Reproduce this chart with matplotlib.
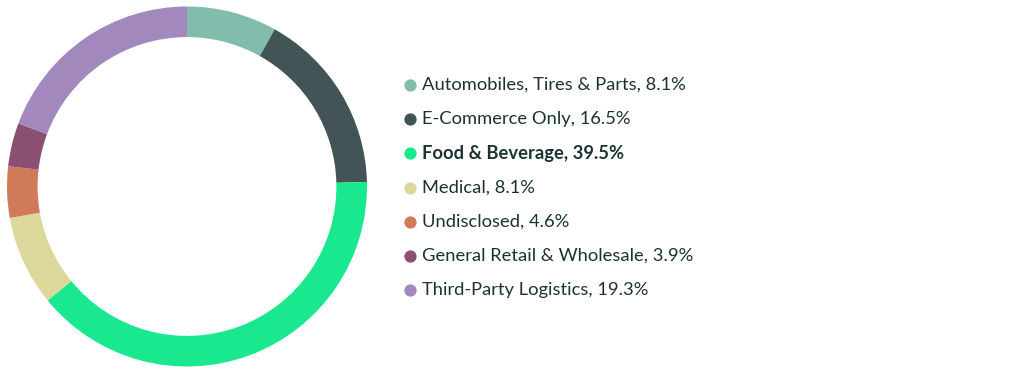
import matplotlib.pyplot as plt

# =========================
# DATA
# =========================

categories = [
    "Automobiles, Tires & Parts",
    "E-Commerce Only",
    "Food & Beverage",
    "Medical",
    "Undisclosed",
    "General Retail & Wholesale",
    "Third-Party Logistics",
]

shares = [8.1, 16.5, 39.5, 8.1, 4.6, 3.9, 19.3]

colors = [
    "#82bcad",
    "#435457",
    "#19e88f",
    "#dcd89c",
    "#d17a5a",
    "#8a4f72",
    "#a288bd",
]

highlight = "Food & Beverage"

# =========================
# FIGURE
# =========================

W, H = 1027, 373
fig = plt.figure(figsize=(W / 100, H / 100), dpi=100)

ax = fig.add_axes([7 / W, 6.5 / H, 360 / W, 360 / H])
ax.pie(
    shares,
    colors=colors,
    startangle=90,
    counterclock=False,
    radius=1.0,
    wedgeprops=dict(width=0.17, linewidth=0),
)
ax.set_xlim(-1, 1)
ax.set_ylim(-1, 1)
ax.set_aspect("equal")

# =========================
# LEGEND (pixel coords axes)
# =========================

lg = fig.add_axes([0, 0, 1, 1])
lg.set_xlim(0, W)
lg.set_ylim(H, 0)
lg.axis("off")
lg.patch.set_alpha(0)

text_color = "#1c3334"
y0 = 85
step = 34.2
for i, (cat, val, col) in enumerate(zip(categories, shares, colors)):
    y = y0 + i * step
    lg.scatter([410], [y], s=78, color=col, linewidths=0)
    lg.text(
        422, y, f"{cat}, {val}%",
        va="center", ha="left",
        fontsize=13.2, family="Lato",
        fontweight="bold" if cat == highlight else "normal",
        color=text_color,
    )

fig.savefig("out.png", dpi=100)
